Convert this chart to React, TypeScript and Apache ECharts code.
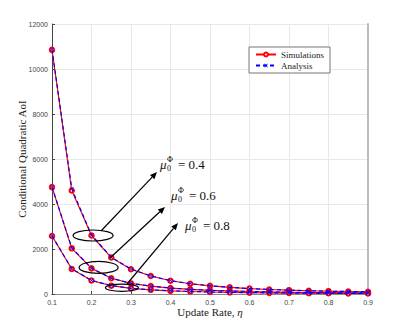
import React, { useEffect, useRef } from "react";
import * as echarts from "echarts";

const etaValues = [0.1, 0.15, 0.2, 0.25, 0.3, 0.35, 0.4, 0.45, 0.5, 0.55, 0.6, 0.65, 0.7, 0.75, 0.8, 0.85, 0.9];

const simMu04 = [10850, 4600, 2600, 1620, 1100, 800, 590, 455, 365, 295, 240, 200, 170, 145, 125, 110, 95];
const simMu06 = [4750, 2030, 1140, 700, 470, 350, 265, 205, 165, 135, 110, 92, 78, 66, 57, 50, 43];
const simMu08 = [2580, 1110, 600, 370, 250, 185, 140, 110, 88, 72, 60, 50, 43, 37, 32, 28, 25];

const anaMu04 = [10870, 4680, 2620, 1630, 1110, 805, 595, 458, 367, 297, 242, 201, 171, 146, 126, 111, 96];
const anaMu06 = [4760, 2050, 1150, 705, 474, 352, 267, 206, 166, 136, 111, 93, 79, 67, 58, 51, 44];
const anaMu08 = [2590, 1120, 605, 373, 252, 186, 141, 111, 89, 73, 61, 51, 44, 38, 33, 29, 26];

const muLabels = ["0.4", "0.6", "0.8"];

const X_CROSS = "path://M0,1L1,0L5,4L9,0L10,1L6,5L10,9L9,10L5,6L1,10L0,9L4,5Z";
const SERIF = "Liberation Serif";
const SANS = "Liberation Sans";

export default function App() {
  const ref = useRef<HTMLDivElement>(null);

  useEffect(() => {
    if (!ref.current) return;
    const chart = echarts.init(ref.current, undefined, { renderer: "svg" });

    const toData = (arr: number[]) => etaValues.map((e, i) => [e, arr[i]]);

    const simSeries = (arr: number[]) => ({
      type: "line",
      name: "Simulations",
      data: toData(arr),
      symbol: "emptyCircle",
      symbolSize: 4.5,
      lineStyle: { color: "#ff0000", width: 1.2 },
      itemStyle: { color: "#ff0000", borderColor: "#ff0000", borderWidth: 1 },
      z: 2,
    });
    const anaSeries = (arr: number[]) => ({
      type: "line",
      name: "Analysis",
      data: toData(arr),
      symbol: X_CROSS,
      symbolSize: 4,
      lineStyle: { color: "#0000ff", width: 1.2, type: [4, 3] },
      itemStyle: { color: "#0000ff" },
      z: 3,
    });

    const axisLabelStyle = { fontFamily: SANS, fontSize: 7, color: "#444" };

    chart.setOption({
      animation: false,
      backgroundColor: "#ffffff",
      grid: { left: 52, right: 39, top: 24, bottom: 37, containLabel: false },
      legend: {
        left: 249,
        top: 47,
        orient: "vertical",
        data: ["Simulations", "Analysis"],
        backgroundColor: "#ffffff",
        borderColor: "#777",
        borderWidth: 1,
        padding: [3, 6, 3, 6],
        itemGap: 2,
        itemWidth: 20,
        itemHeight: 5,
        textStyle: { fontFamily: SERIF, fontSize: 9, color: "#222" },
      },
      xAxis: [
        {
          type: "value",
          min: 0.1,
          max: 0.9,
          interval: 0.1,
          name: "{a|Update Rate, }{i|η}",
          nameLocation: "middle",
          nameGap: 12,
          nameMoveOverlap: false,
          nameTextStyle: {
            rich: {
              a: { fontFamily: SERIF, fontSize: 11, color: "#222" },
              i: { fontFamily: SERIF, fontSize: 11, color: "#222", fontStyle: "italic" },
            },
          },
          axisLine: { show: true, lineStyle: { color: "#444", width: 1 } },
          axisTick: { show: true, inside: true, length: 3, lineStyle: { color: "#444" } },
          axisLabel: { ...axisLabelStyle, margin: 5, formatter: (v: number) => String(Math.round(v * 10) / 10) },
          splitLine: { show: true, lineStyle: { color: "#e8e8e8", width: 1 } },
        },
        {
          type: "value",
          position: "top",
          min: 0.1,
          max: 0.9,
          interval: 0.1,
          axisLine: { show: true, lineStyle: { color: "#888", width: 1 } },
          axisTick: { show: false },
          axisLabel: { show: false },
          splitLine: { show: false },
        },
      ],
      yAxis: [
        {
          type: "value",
          min: 0,
          max: 12000,
          interval: 2000,
          name: "Conditional Quadratic AoI",
          nameLocation: "middle",
          nameGap: 25,
          nameMoveOverlap: false,
          nameTextStyle: { fontFamily: SERIF, fontSize: 11, color: "#222" },
          axisLine: { show: true, lineStyle: { color: "#444", width: 1 } },
          axisTick: { show: true, inside: true, length: 3, lineStyle: { color: "#444" } },
          axisLabel: { ...axisLabelStyle, margin: 4, formatter: (v: number) => String(v) },
          splitLine: { show: true, lineStyle: { color: "#e8e8e8", width: 1 } },
        },
        {
          type: "value",
          position: "right",
          min: 0,
          max: 12000,
          interval: 2000,
          axisLine: { show: true, lineStyle: { color: "#bbbbbb", width: 2 } },
          axisTick: { show: false },
          axisLabel: { show: false },
          splitLine: { show: false },
        },
      ],
      series: [
        simSeries(simMu04),
        simSeries(simMu06),
        simSeries(simMu08),
        anaSeries(anaMu04),
        anaSeries(anaMu06),
        anaSeries(anaMu08),
      ],
    });

    const ellipses = [
      { c: [0.204, 2600], rx: 20, ry: 5.5 },
      { c: [0.218, 1180], rx: 19.5, ry: 6 },
      { c: [0.277, 280], rx: 16.5, ry: 3.6 },
    ];
    const arrows = [
      { from: [101, 231], to: [157, 172] },
      { from: [110, 258], to: [165, 207] },
      { from: [127, 284], to: [178, 223] },
    ];
    const labelPos = [
      [160, 164],
      [171, 195],
      [185, 225],
    ];

    const graphics: any[] = [];
    ellipses.forEach((e) => {
      const p = chart.convertToPixel({ gridIndex: 0 }, e.c) as number[];
      graphics.push({
        type: "ellipse",
        shape: { cx: p[0], cy: p[1], rx: e.rx, ry: e.ry },
        style: { fill: "none", stroke: "#000", lineWidth: 1.2 },
        z: 10,
      });
    });
    arrows.forEach((a) => {
      const [x1, y1] = a.from;
      const [x2, y2] = a.to;
      const dx = x2 - x1;
      const dy = y2 - y1;
      const len = Math.sqrt(dx * dx + dy * dy);
      const ux = dx / len;
      const uy = dy / len;
      const hl = 7;
      const hw = 3;
      const bx = x2 - ux * hl;
      const by = y2 - uy * hl;
      graphics.push({
        type: "line",
        shape: { x1, y1, x2: bx, y2: by },
        style: { stroke: "#000", lineWidth: 1.2 },
        z: 10,
      });
      graphics.push({
        type: "polygon",
        shape: {
          points: [
            [x2, y2],
            [bx - uy * hw, by + ux * hw],
            [bx + uy * hw, by - ux * hw],
          ],
        },
        style: { fill: "#000" },
        z: 10,
      });
    });
    labelPos.forEach((lp, i) => {
      const [x, y] = lp;
      graphics.push({
        type: "text",
        x,
        y,
        style: { text: "μ", font: `italic 13px '${SERIF}'`, fill: "#111", textVerticalAlign: "middle" },
        z: 11,
      });
      graphics.push({
        type: "text",
        x: x + 7,
        y: y - 5,
        style: { text: "Φ", font: `8px '${SERIF}'`, fill: "#111", textVerticalAlign: "middle" },
        z: 11,
      });
      graphics.push({
        type: "text",
        x: x + 7,
        y: y + 4.5,
        style: { text: "0", font: `8px '${SERIF}'`, fill: "#111", textVerticalAlign: "middle" },
        z: 11,
      });
      graphics.push({
        type: "text",
        x: x + 18,
        y,
        style: { text: "= " + muLabels[i], font: `13px '${SERIF}'`, fill: "#111", textVerticalAlign: "middle" },
        z: 11,
      });
    });

    chart.setOption({ graphic: graphics });

    return () => chart.dispose();
  }, []);

  return <div ref={ref} style={{ position: "fixed", left: 0, top: 0, width: 407, height: 331 }} />;
}
